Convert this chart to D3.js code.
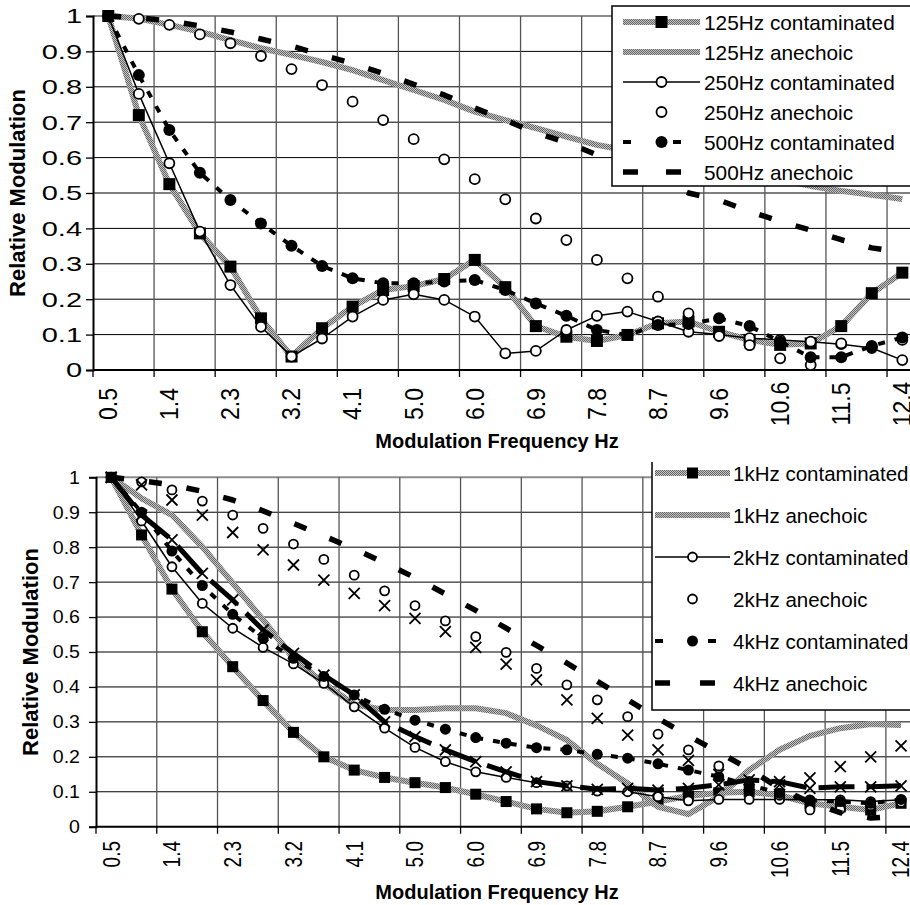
<!DOCTYPE html>
<html>
<head>
<meta charset="utf-8">
<script src="https://cdn.jsdelivr.net/npm/d3@7"></script>
<style>
  body { margin: 0; background: #fff; }
  text { font-family: "Liberation Sans", Arial, sans-serif; fill: #000; }
</style>
</head>
<body>
<script>
// modulation frequency categories (only every other one is labelled)
var freqs = ['0.5', '1.0', '1.4', '1.9', '2.3', '2.8', '3.2', '3.7', '4.1', '4.6', '5.0', '5.5', '6.0',
    '6.4', '6.9', '7.3', '7.8', '8.2', '8.7', '9.2', '9.6', '10.1', '10.6', '11.0', '11.5', '11.9', '12.4'];
var yTicks = [0, 0.1, 0.2, 0.3, 0.4, 0.5, 0.6, 0.7, 0.8, 0.9, 1];

// top panel
var c125 = [1.0, 0.72, 0.525, 0.386, 0.292, 0.146, 0.038, 0.118, 0.179, 0.226, 0.237, 0.257, 0.311, 0.234,
    0.124, 0.094, 0.082, 0.099, 0.132, 0.137, 0.108, 0.085, 0.071, 0.075, 0.124, 0.217, 0.275];
var a125 = [1.0, 0.993, 0.975, 0.956, 0.932, 0.909, 0.89, 0.87, 0.847, 0.819, 0.791, 0.763, 0.73, 0.706,
    0.683, 0.659, 0.636, 0.62, 0.603, 0.587, 0.57, 0.553, 0.537, 0.52, 0.506, 0.495, 0.483];
var c250 = [1.0, 0.78, 0.584, 0.391, 0.24, 0.122, 0.038, 0.089, 0.151, 0.198, 0.214, 0.198, 0.151, 0.047,
    0.054, 0.113, 0.153, 0.165, 0.137, 0.108, 0.10, 0.09, 0.085, 0.08, 0.073, 0.062, 0.028];
var a250 = [1.0, 0.992, 0.975, 0.948, 0.923, 0.887, 0.85, 0.805, 0.758, 0.706, 0.652, 0.595, 0.539, 0.482,
    0.428, 0.367, 0.311, 0.259, 0.207, 0.16, 0.096, 0.07, 0.033, 0.014, 0.075, 0.065, 0.085];
var c500 = [1.0, 0.833, 0.678, 0.557, 0.48, 0.414, 0.351, 0.294, 0.259, 0.245, 0.245, 0.25, 0.254, 0.226,
    0.188, 0.153, 0.113, 0.099, 0.127, 0.13, 0.146, 0.124, 0.08, 0.036, 0.036, 0.068, 0.092];
var a500 = [1.0, 0.995, 0.986, 0.972, 0.955, 0.935, 0.915, 0.89, 0.866, 0.838, 0.807, 0.777, 0.74, 0.706,
    0.67, 0.643, 0.608, 0.573, 0.536, 0.50, 0.48, 0.448, 0.42, 0.395, 0.368, 0.345, 0.332];

// bottom panel
var c1k = [1.0, 0.835, 0.68, 0.558, 0.458, 0.361, 0.27, 0.2, 0.162, 0.141, 0.126, 0.112, 0.093, 0.072,
    0.051, 0.04, 0.044, 0.057, 0.072, 0.088, 0.097, 0.1, 0.09, 0.067, 0.057, 0.048, 0.067];
var a1k = [1.0, 0.94, 0.892, 0.801, 0.697, 0.592, 0.482, 0.41, 0.35, 0.334, 0.334, 0.339, 0.339, 0.325,
    0.29, 0.248, 0.18, 0.124, 0.057, 0.036, 0.086, 0.162, 0.22, 0.26, 0.282, 0.294, 0.291];
var c2k = [1.0, 0.875, 0.744, 0.639, 0.568, 0.513, 0.466, 0.41, 0.343, 0.282, 0.227, 0.186, 0.157, 0.141,
    0.126, 0.117, 0.102, 0.1, 0.086, 0.074, 0.078, 0.078, 0.078, 0.077, 0.077, 0.072, 0.077];
var a2k = [1.0, 0.987, 0.964, 0.932, 0.892, 0.854, 0.809, 0.765, 0.72, 0.675, 0.633, 0.589, 0.544, 0.499,
    0.453, 0.406, 0.363, 0.315, 0.265, 0.22, 0.174, 0.13, 0.09, 0.048, 0.05, 0.06, 0.07];
var c4k = [1.0, 0.90, 0.789, 0.69, 0.608, 0.539, 0.482, 0.43, 0.377, 0.336, 0.305, 0.279, 0.255, 0.239,
    0.226, 0.22, 0.207, 0.196, 0.18, 0.162, 0.143, 0.12, 0.096, 0.076, 0.072, 0.067, 0.078];
var a4k = [1.0, 0.99, 0.978, 0.96, 0.935, 0.904, 0.868, 0.832, 0.795, 0.755, 0.713, 0.666, 0.619, 0.568,
    0.519, 0.468, 0.416, 0.363, 0.31, 0.26, 0.213, 0.165, 0.11, 0.07, 0.04, 0.025, 0.03];
// the two cross series are not in the (cut off) legend
var c8k = [1.0, 0.892, 0.821, 0.725, 0.649, 0.563, 0.496, 0.434, 0.377, 0.30, 0.258, 0.22, 0.186, 0.157,
    0.129, 0.117, 0.107, 0.11, 0.105, 0.11, 0.12, 0.134, 0.129, 0.11, 0.114, 0.114, 0.117];
var a8k = [1.0, 0.978, 0.935, 0.892, 0.842, 0.792, 0.749, 0.706, 0.668, 0.633, 0.596, 0.558, 0.513, 0.465,
    0.42, 0.363, 0.31, 0.262, 0.22, 0.19, 0.15, 0.12, 0.12, 0.14, 0.172, 0.2, 0.231];

var W = 910, H = 905;
var svg = d3.select('body').append('svg').attr('width', W).attr('height', H);

// speckled grey band used for the "grey" lines
var defs = svg.append('defs');
var pat = defs.append('pattern').attr('id', 'grain')
    .attr('patternUnits', 'userSpaceOnUse').attr('width', 2).attr('height', 2);
pat.append('rect').attr('width', 2).attr('height', 2).attr('fill', '#c4c4c4');
pat.append('rect').attr('width', 1).attr('height', 1).attr('fill', '#666');
pat.append('rect').attr('x', 1).attr('y', 1).attr('width', 1).attr('height', 1).attr('fill', '#666');

// line styles
var styles = {
    grey: { stroke: 'url(#grain)', width: 6, dash: null },
    thin: { stroke: '#000', width: 1.5, dash: null },
    shortDash: { stroke: '#000', width: 4, dash: '7,10' },
    longDash: { stroke: '#000', width: 5.5, dash: '13,25' },
    thickDash: { stroke: '#000', width: 5, dash: '36,12' },
    none: null
};

function drawMarker(sel, type, size) {
    if (type === 'square') {
        sel.append('rect').attr('x', -size / 2).attr('y', -size / 2)
            .attr('width', size).attr('height', size).attr('fill', '#000');
    } else if (type === 'open') {
        sel.append('circle').attr('r', size / 2 - 1).attr('fill', '#fff')
            .attr('stroke', '#000').attr('stroke-width', 1.8);
    } else if (type === 'dot') {
        sel.append('circle').attr('r', size / 2).attr('fill', '#000');
    } else if (type === 'cross') {
        var h = size / 2;
        sel.append('path').attr('d', 'M' + (-h) + ',' + (-h) + 'L' + h + ',' + h +
            'M' + (-h) + ',' + h + 'L' + h + ',' + (-h))
            .attr('stroke', '#000').attr('stroke-width', 1.8).attr('fill', 'none');
    }
}

function drawPanel(p) {
    var x = d3.scaleBand().domain(freqs).range([p.left, p.left + freqs.length * p.bw]);
    var y = d3.scaleLinear().domain([0, 1]).range([p.bottom, p.top]);
    var cx = function(i) { return x(freqs[i]) + x.bandwidth() / 2; };
    var g = svg.append('g');
    var boundaries = d3.range(0, freqs.length, 2);

    // horizontal grid
    g.selectAll('.hgrid').data(yTicks.slice(1, -1)).join('line')
        .attr('x1', p.left).attr('x2', W)
        .attr('y1', function(d) { return y(d); }).attr('y2', function(d) { return y(d); })
        .attr('stroke', '#000').attr('stroke-width', 1);
    g.append('line').attr('x1', p.left).attr('x2', W).attr('y1', y(1)).attr('y2', y(1))
        .attr('stroke', '#8c8c8c').attr('stroke-width', 2);
    // vertical grid every second category
    g.selectAll('.vgrid').data(boundaries.slice(1)).join('line')
        .attr('x1', function(d) { return x(freqs[d]); }).attr('x2', function(d) { return x(freqs[d]); })
        .attr('y1', y(1)).attr('y2', y(0))
        .attr('stroke', '#555').attr('stroke-width', 1.3);

    // y axis
    var yAxis = g.append('g').attr('transform', 'translate(' + p.left + ',0)')
        .call(d3.axisLeft(y).tickValues(yTicks).tickSize(7).tickFormat(''));
    yAxis.select('.domain').attr('stroke-width', 2);
    yAxis.selectAll('.tick line').attr('stroke-width', 1.3);
    g.selectAll('.ylab').data(yTicks).join('text')
        .attr('transform', function(d) {
            return 'translate(' + p.yLabRight + ',' + y(d) + ') scale(' + p.yLabStretch + ',1)';
        })
        .attr('text-anchor', 'end').attr('dominant-baseline', 'central')
        .style('font-size', p.yLabSize + 'px')
        .text(function(d) { return d === 0 ? '0' : d === 1 ? '1' : d3.format('.1f')(d); });

    // x axis
    g.append('line').attr('x1', p.left).attr('x2', W).attr('y1', y(0)).attr('y2', y(0))
        .attr('stroke', '#000').attr('stroke-width', 2);
    g.selectAll('.xtick').data(boundaries).join('line')
        .attr('x1', function(d) { return x(freqs[d]); }).attr('x2', function(d) { return x(freqs[d]); })
        .attr('y1', y(0)).attr('y2', y(0) + 7)
        .attr('stroke', '#000').attr('stroke-width', 1.3);
    g.selectAll('.xlab').data(boundaries).join('text')
        .attr('transform', function(d) {
            return 'translate(' + cx(d) + ',' + p.xLabY + ') scale(' + p.xLabStretch + ',1) rotate(-90)';
        })
        .attr('text-anchor', p.xLabAnchor).attr('dominant-baseline', 'central')
        .style('font-size', p.xLabSize + 'px')
        .text(function(d) { return freqs[d]; });

    // titles
    g.append('text').attr('x', p.xTitleX).attr('y', p.xTitleY).attr('text-anchor', 'middle')
        .style('font-size', '20px').style('font-weight', 'bold').text('Modulation Frequency Hz');
    g.append('text').attr('transform', 'translate(' + p.yTitleX + ',' + (p.top + p.bottom) / 2 + ') rotate(-90)')
        .attr('text-anchor', 'middle').attr('dominant-baseline', 'central')
        .style('font-size', '22px').style('font-weight', 'bold').text('Relative Modulation');

    // series
    var line = d3.line().x(function(d, i) { return cx(i); }).y(function(d) { return y(d); });
    p.series.forEach(function(s) {
        var st = styles[s.line];
        if (st) {
            g.append('path').datum(s.values).attr('d', line).attr('fill', 'none')
                .attr('stroke', st.stroke).attr('stroke-width', st.width)
                .attr('stroke-dasharray', st.dash).attr('stroke-linejoin', 'round');
        }
        if (s.marker) {
            s.values.forEach(function(v, i) {
                var m = g.append('g').attr('transform', 'translate(' + cx(i) + ',' + y(v) + ')');
                drawMarker(m, s.marker, p.markerSize);
            });
        }
    });

    // legend
    var L = p.legend;
    var lg = svg.append('g');
    lg.append('rect').attr('x', L.x).attr('y', L.y).attr('width', W - L.x + 20).attr('height', L.h)
        .attr('fill', '#fff');
    lg.append('path').attr('d', L.border).attr('fill', 'none').attr('stroke', '#000').attr('stroke-width', 1.5);
    L.items.forEach(function(s, i) {
        var ry = L.rowY + i * L.rowH;
        var st = styles[s.line];
        if (st) {
            lg.append('line').attr('x1', L.symX0).attr('x2', L.symX1).attr('y1', ry).attr('y2', ry)
                .attr('stroke', st.stroke).attr('stroke-width', st.width)
                .attr('stroke-dasharray', s.legendDash || st.dash);
        }
        if (s.marker) {
            var m = lg.append('g').attr('transform', 'translate(' + (L.symX0 + L.symX1) / 2 + ',' + ry + ')');
            drawMarker(m, s.marker, p.markerSize);
        }
        lg.append('text').attr('x', L.textX).attr('y', ry).attr('dominant-baseline', 'central')
            .style('font-size', L.fontSize + 'px').text(s.name);
    });
}

var topSeries = [
    { name: '125Hz contaminated', values: c125, line: 'grey', marker: 'square' },
    { name: '125Hz anechoic', values: a125, line: 'grey', marker: null },
    { name: '250Hz contaminated', values: c250, line: 'thin', marker: 'open' },
    { name: '250Hz anechoic', values: a250, line: 'none', marker: 'open' },
    { name: '500Hz contaminated', values: c500, line: 'shortDash', marker: 'dot', legendDash: '8,42' },
    { name: '500Hz anechoic', values: a500, line: 'longDash', marker: null, legendDash: '15,28' }
];
var bottomSeries = [
    { name: '1kHz contaminated', values: c1k, line: 'grey', marker: 'square' },
    { name: '1kHz anechoic', values: a1k, line: 'grey', marker: null },
    { name: '2kHz contaminated', values: c2k, line: 'thin', marker: 'open' },
    { name: '2kHz anechoic', values: a2k, line: 'none', marker: 'open' },
    { name: '4kHz contaminated', values: c4k, line: 'shortDash', marker: 'dot', legendDash: '8,45' },
    { name: '4kHz anechoic', values: a4k, line: 'longDash', marker: null, legendDash: '15,30' },
    { name: '8kHz contaminated', values: c8k, line: 'thickDash', marker: 'cross' },
    { name: '8kHz anechoic', values: a8k, line: 'none', marker: 'cross' }
];

drawPanel({
    left: 93, bw: 30.54, top: 16, bottom: 370,
    yLabRight: 82, yLabSize: 21, yLabStretch: 1.38,
    xLabY: 404, xLabAnchor: 'middle', xLabSize: 23, xLabStretch: 1.1,
    xTitleX: 497, xTitleY: 448, yTitleX: 17,
    markerSize: 12,
    series: topSeries,
    legend: {
        x: 612, y: 6, h: 180, border: 'M915,6H612V186H915',
        rowY: 22, rowH: 30, symX0: 623, symX1: 700, textX: 704, fontSize: 20.8,
        items: topSeries
    }
});

drawPanel({
    left: 96, bw: 30.38, top: 477.3, bottom: 826.7,
    yLabRight: 80, yLabSize: 19, yLabStretch: 1.03,
    xLabY: 841, xLabAnchor: 'end', xLabSize: 19, xLabStretch: 1.3,
    xTitleX: 497, xTitleY: 899, yTitleX: 30,
    markerSize: 11,
    series: bottomSeries,
    legend: {
        x: 652, y: 462, h: 248, border: 'M652,462V710H915',
        rowY: 473, rowH: 42, symX0: 655, symX1: 730, textX: 733, fontSize: 20.5,
        items: bottomSeries.slice(0, 6)
    }
});
</script>
</body>
</html>
